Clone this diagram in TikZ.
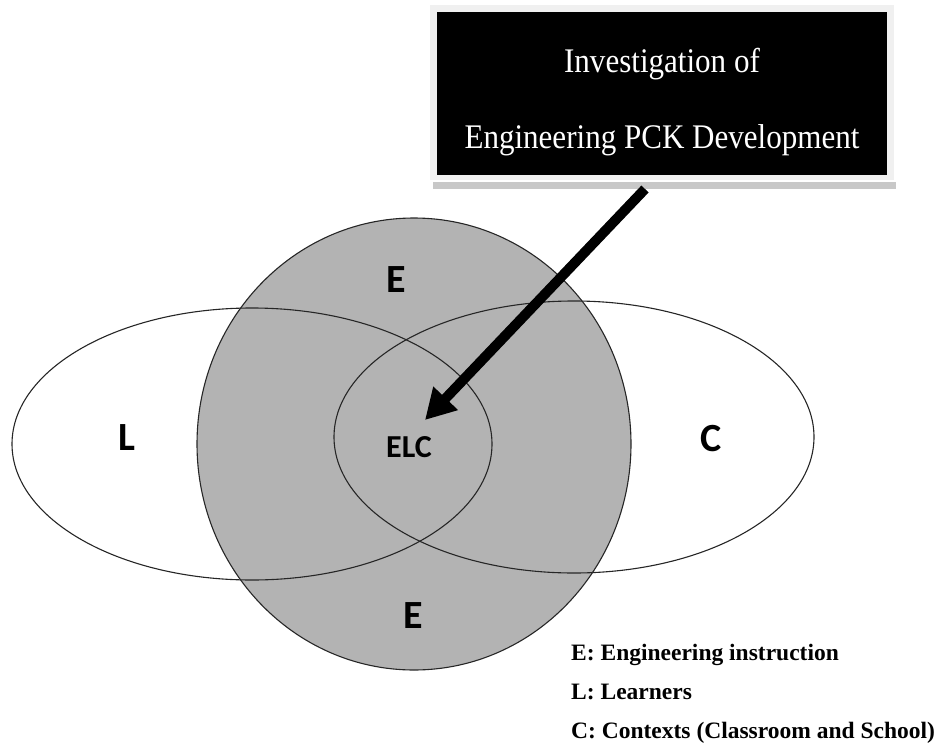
\documentclass[tikz,border=0pt]{standalone}
\usepackage{fontspec}
\usetikzlibrary{arrows.meta}
\setmainfont{Liberation Serif}
\newfontfamily\labfont{Carlito}
\newfontfamily\boxfont[FakeStretch=0.9]{Liberation Serif}
\definecolor{venngray}{RGB}{179,179,179}
\definecolor{framegray}{RGB}{240,240,240}
\definecolor{shadowgray}{RGB}{200,200,200}
\tikzset{
  outline/.style={draw=black!85, line width=1.1pt},
  setlabel/.style={anchor=base, inner sep=0pt, font=\labfont\bfseries\fontsize{40}{42}\selectfont},
  boxtext/.style={anchor=base, inner sep=0pt, text=white, font=\boxfont\fontsize{34.5}{36}\selectfont},
  legendtext/.style={anchor=base west, inner sep=0pt, font=\bfseries\fontsize{23.5}{25}\selectfont},
  bigarrow/.style={line width=10pt, -{Triangle[length=30pt,width=32pt]}}
}
\begin{document}
\begin{tikzpicture}[x=1pt,y=-1pt]
\useasboundingbox (0,0) rectangle (940,744);
% title box with frame and shadow
\fill[shadowgray] (433,182) rectangle (896,189);
\fill[framegray] (430,5) rectangle (894,180);
\node[fill=black, minimum width=450pt, minimum height=163pt, inner sep=0pt] (box) at (662,93.5) {};
\node[boxtext] (line1) at (662,72) {Investigation of};
\node[boxtext] (line2) at (662,148) {Engineering PCK Development};
% Venn shapes
\fill[venngray] (414,444) ellipse [x radius=217pt, y radius=226pt];
\draw[outline] (414,444) ellipse [x radius=217pt, y radius=226pt];
\draw[outline] (252,444) ellipse [x radius=240pt, y radius=136pt];
\draw[outline] (574,437) ellipse [x radius=240pt, y radius=136pt];
% labels
\node[setlabel] (etop) at (396,292) {E};
\node[setlabel] (ebot) at (413,628) {E};
\node[setlabel] (lset) at (127,450) {L};
\node[setlabel] (cset) at (711,451) {C};
\node[setlabel, font=\labfont\bfseries\fontsize{32}{34}\selectfont] (elc) at (409,457) {ELC};
% arrow
\coordinate (astart) at (645,189);
\coordinate (aend) at (425,420);
\draw[bigarrow] (astart) -- (aend);
% legend
\node[legendtext] (leg1) at (571,660) {E: Engineering instruction};
\node[legendtext] (leg2) at (571,699) {L: Learners};
\node[legendtext] (leg3) at (571,738) {C: Contexts (Classroom and School)};
\end{tikzpicture}
\end{document}
